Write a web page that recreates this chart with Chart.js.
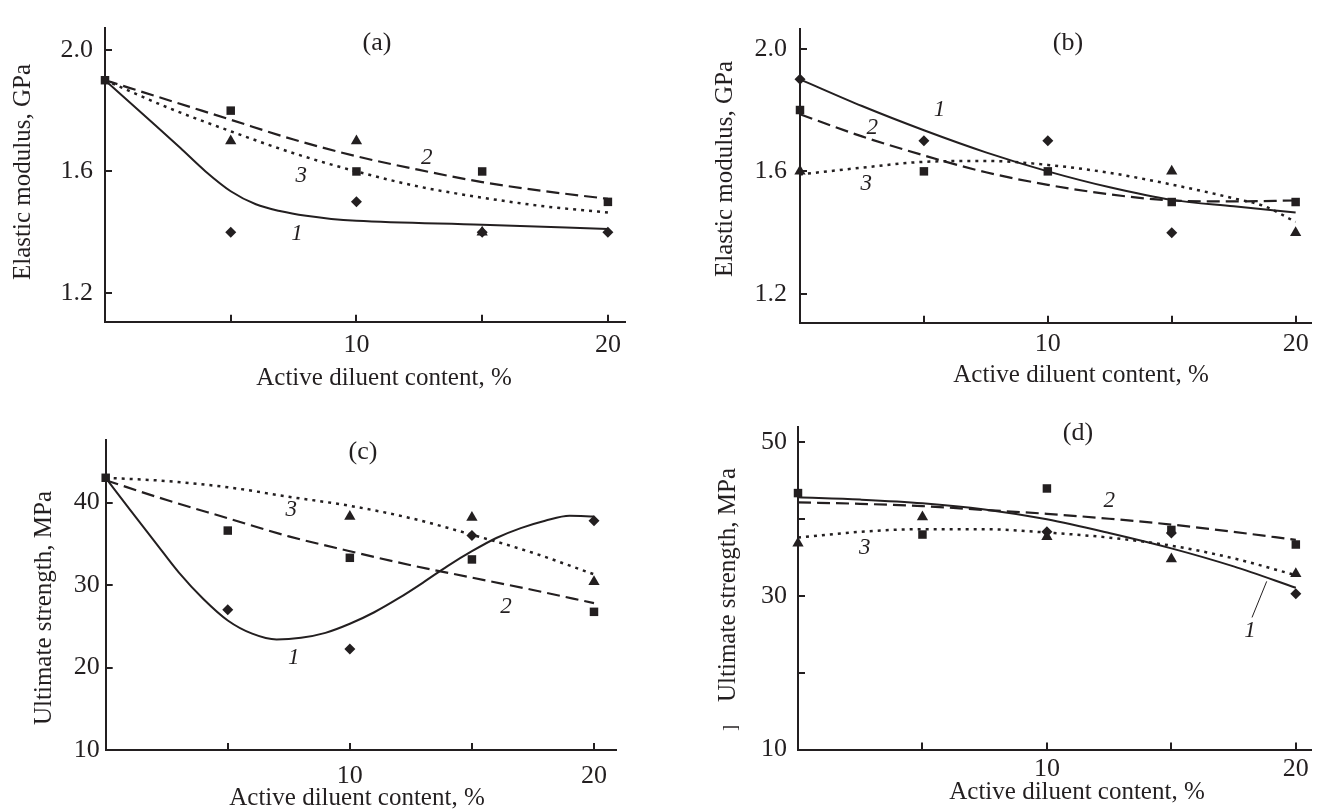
<!DOCTYPE html>
<html>
<head>
<meta charset="utf-8">
<script src="https://cdn.jsdelivr.net/npm/chart.js@4.4.1/dist/chart.umd.min.js"></script>
<style>
  html, body { margin: 0; padding: 0; background: #fff; }
  body { width: 1318px; height: 810px; position: relative; overflow: hidden; }
  canvas { position: absolute; }
</style>
</head>
<body>
<canvas id="panelA" width="660" height="400" style="left:0px;top:0px"></canvas>
<canvas id="panelB" width="658" height="400" style="left:660px;top:0px"></canvas>
<canvas id="panelC" width="660" height="410" style="left:0px;top:400px"></canvas>
<canvas id="panelD" width="658" height="410" style="left:660px;top:400px"></canvas>
<script>
// diluent content where samples were measured, %
const contentX = [0, 5, 10, 15, 20];
// abscissas of the fitted curves
const fitX = [0, 2.5, 5, 7.5, 10, 12.5, 15, 17.5, 20];

const xTickValues = [5, 10, 15, 20];
const xTickLabels = ['', '10', '', '20'];

// (a) elastic modulus, GPa
const aDiamond = [null, 1.4, 1.5, 1.4, 1.4];
const aSquare = [1.9, 1.8, 1.6, 1.6, 1.5];
const aTriangle = [null, 1.7, 1.7, 1.4, null];
const aFit1X = [0, 1, 2, 3, 4, 5, 6, 7, 8, 9, 10, 15, 20];
const aFit1 = [1.9, 1.826, 1.752, 1.677, 1.6, 1.535, 1.492, 1.469, 1.454, 1.444, 1.438, 1.425, 1.411];
const aFit2 = [1.9, 1.835, 1.77, 1.705, 1.65, 1.605, 1.565, 1.535, 1.51];
const aFit3 = [1.9, 1.81, 1.732, 1.66, 1.6, 1.55, 1.514, 1.485, 1.465];

// (b) elastic modulus, GPa
const bDiamond = [1.9, 1.7, 1.7, 1.4, null];
const bSquare = [1.8, 1.6, 1.6, 1.5, 1.5];
const bTriangle = [1.6, null, null, 1.6, 1.4];
const bFit1 = [1.9, 1.813, 1.734, 1.662, 1.6, 1.548, 1.507, 1.486, 1.466];
const bFit2 = [1.786, 1.714, 1.652, 1.597, 1.556, 1.525, 1.505, 1.502, 1.505];
const bFit3X = [0, 2.5, 5, 7.5, 10, 12.5, 15, 17.5, 18.75, 20];
const bFit3 = [1.59, 1.612, 1.631, 1.634, 1.621, 1.595, 1.557, 1.512, 1.486, 1.435];

// (c) ultimate strength, MPa
const cDiamond = [null, 27.0, 22.25, 36.0, 37.8];
const cSquare = [43.0, 36.6, 33.3, 33.1, 26.75];
const cTriangle = [null, null, 38.3, 38.2, 30.4];
const cFit1X = [0, 1, 2, 3, 4, 5, 6, 7, 8, 9, 10, 11, 12, 13, 14, 15, 16, 17, 18, 19, 20];
const cFit1 = [43.0, 39.1, 35.3, 31.5, 28.3, 25.7, 24.1, 23.4, 23.6, 24.2, 25.3, 26.7, 28.4, 30.3, 32.3, 34.1, 35.7, 36.9, 37.8, 38.4, 38.3];
const cFit2 = [42.7, 40.3, 38.1, 35.9, 34.1, 32.4, 30.9, 29.4, 27.8];
const cFit3 = [43.0, 42.6, 41.85, 40.7, 39.6, 38.1, 36.1, 33.9, 31.3];

// (d) ultimate strength, MPa
const dDiamond = [null, null, 38.35, 38.2, 30.3];
const dSquare = [43.4, 38.0, 44.0, 38.6, 36.7];
const dTriangle = [36.85, 40.3, 37.7, 34.8, 32.9];
const dFit1 = [42.85, 42.55, 42.08, 41.26, 39.98, 38.2, 36.2, 33.85, 31.07];
const dFit2 = [42.2, 42.0, 41.7, 41.2, 40.7, 40.06, 39.3, 38.35, 37.3];
const dFit3 = [37.6, 38.35, 38.7, 38.7, 38.26, 37.6, 36.55, 34.9, 32.7];
const dLeaderX = [18.24, 18.83];
const dLeader = [27.2, 31.9];

const modulusTicks = [1.2, 1.6, 2.0];
const modulusLabels = ['1.2', '1.6', '2.0'];
const strengthTicksC = [10, 20, 30, 40];
const strengthLabelsC = ['10', '20', '30', '40'];
const strengthTicksD = [10, 20, 30, 40, 50];
const strengthLabelsD = ['10', '', '30', '', '50'];

const INK = '#231f20';
const SERIF = "'Liberation Serif', 'Times New Roman', serif";

Chart.defaults.font.family = SERIF;
Chart.defaults.font.size = 26;
Chart.defaults.color = INK;

const pts = (xs, ys) => xs.map((x, i) => ({ x: x, y: ys[i] }));

function markers(ys, style, radius) {
  return {
    data: pts(contentX, ys),
    showLine: false,
    pointStyle: style,
    pointRadius: radius,
    pointHoverRadius: radius,
    pointBackgroundColor: INK,
    pointBorderColor: INK,
    pointBorderWidth: 0,
    clip: false
  };
}

function fit(xs, ys, dash, width) {
  return {
    data: pts(xs, ys),
    borderColor: INK,
    borderWidth: width,
    borderDash: dash,
    borderCapStyle: 'butt',
    pointRadius: 0,
    cubicInterpolationMode: 'monotone',
    fill: false,
    clip: false
  };
}

const SOLID = [];
const DASHED = [13, 6];
const DOTTED = [3, 5];

// inward tick marks plus the free text of each panel
const panelDecor = {
  id: 'panelDecor',
  afterDraw(chart, args, opts) {
    const { ctx, chartArea: a, scales: { x, y } } = chart;
    ctx.save();
    ctx.strokeStyle = INK;
    ctx.lineWidth = 2;
    ctx.beginPath();
    x.ticks.forEach(t => {
      const px = Math.round(x.getPixelForValue(t.value));
      ctx.moveTo(px, a.bottom);
      ctx.lineTo(px, a.bottom - 7);
    });
    y.ticks.forEach(t => {
      const py = Math.round(y.getPixelForValue(t.value));
      ctx.moveTo(a.left, py);
      ctx.lineTo(a.left + 7, py);
    });
    ctx.stroke();

    ctx.fillStyle = INK;
    ctx.textAlign = 'center';
    ctx.textBaseline = 'middle';
    ctx.font = `26px ${SERIF}`;
    ctx.fillText(opts.letter.text, opts.letter.x, opts.letter.y);

    ctx.font = `25px ${SERIF}`;
    ctx.fillText(opts.xTitle.text, opts.xTitle.x, opts.xTitle.y);
    ctx.save();
    ctx.translate(opts.yTitle.x, opts.yTitle.y);
    ctx.rotate(-Math.PI / 2);
    ctx.fillText(opts.yTitle.text, 0, 0);
    ctx.restore();

    if (opts.stray) {
      ctx.save();
      ctx.font = `18px ${SERIF}`;
      ctx.translate(opts.stray.x, opts.stray.y);
      ctx.rotate(-Math.PI / 2);
      ctx.fillText(opts.stray.text, 0, 0);
      ctx.restore();
    }

    // curve numbers sit in data space
    ctx.font = `italic 23px ${SERIF}`;
    opts.tags.forEach(t => {
      ctx.fillText(t.text, x.getPixelForValue(t.x), y.getPixelForValue(t.y));
    });
    ctx.restore();
  }
};

function makePanel(id, p) {
  const canvas = document.getElementById(id);
  const w = canvas.width, h = canvas.height;
  return new Chart(canvas, {
    type: 'line',
    data: { datasets: p.datasets },
    plugins: [panelDecor],
    options: {
      responsive: false,
      animation: false,
      events: [],
      layout: { padding: { left: 0, top: p.area.top, right: w - p.area.right, bottom: 0 } },
      plugins: {
        legend: { display: false },
        tooltip: { enabled: false },
        panelDecor: p.text
      },
      scales: {
        x: {
          type: 'linear',
          min: 0,
          max: p.xMax,
          afterBuildTicks: s => { s.ticks = xTickValues.map(v => ({ value: v })); },
          afterFit: s => { s.height = h - p.area.bottom; },
          grid: { display: false, drawTicks: false },
          border: { display: true, color: INK, width: 2 },
          ticks: {
            autoSkip: false,
            maxRotation: 0,
            padding: p.xPad,
            callback: (v, i) => xTickLabels[i]
          }
        },
        y: {
          type: 'linear',
          min: p.yMin,
          max: p.yMax,
          afterBuildTicks: s => { s.ticks = p.yTicks.map(v => ({ value: v })); },
          afterFit: s => { s.width = p.area.left; },
          grid: { display: false, drawTicks: false },
          border: { display: true, color: INK, width: 2 },
          ticks: {
            autoSkip: false,
            padding: p.yPad,
            callback: (v, i) => p.yLabels[i]
          }
        }
      }
    }
  });
}

const xTitle = 'Active diluent content, %';

makePanel('panelA', {
  area: { left: 105, top: 12.7, right: 625, bottom: 321.7 },
  xMax: 20.68, yMin: 1.106, yMax: 2.073,
  yTicks: modulusTicks, yLabels: modulusLabels,
  xPad: 8, yPad: 12,
  datasets: [
    markers(aSquare, 'rect', 6),
    markers(aTriangle, 'triangle', 6.5),
    markers(aDiamond, 'rectRot', 5.5),
    fit(aFit1X, aFit1, SOLID, 2),
    fit(fitX, aFit2, DASHED, 2.2),
    fit(fitX, aFit3, DOTTED, 2.5)
  ],
  text: {
    letter: { text: '(a)', x: 377, y: 43 },
    xTitle: { text: xTitle, x: 384, y: 378 },
    yTitle: { text: 'Elastic modulus, GPa', x: 23, y: 172 },
    tags: [
      { text: '1', x: 7.64, y: 1.394 },
      { text: '2', x: 12.8, y: 1.644 },
      { text: '3', x: 7.8, y: 1.586 }
    ]
  }
});

makePanel('panelB', {
  area: { left: 140, top: 15, right: 658, bottom: 322.7 },
  xMax: 20.64, yMin: 1.1065, yMax: 2.0655,
  yTicks: modulusTicks, yLabels: modulusLabels,
  xPad: 6, yPad: 13,
  datasets: [
    markers(bSquare, 'rect', 6),
    markers(bTriangle, 'triangle', 6.5),
    markers(bDiamond, 'rectRot', 5.5),
    fit(fitX, bFit1, SOLID, 2),
    fit(fitX, bFit2, DASHED, 2.2),
    fit(bFit3X, bFit3, DOTTED, 2.5)
  ],
  text: {
    letter: { text: '(b)', x: 408, y: 43 },
    xTitle: { text: xTitle, x: 421, y: 375 },
    yTitle: { text: 'Elastic modulus, GPa', x: 65, y: 169 },
    tags: [
      { text: '1', x: 5.63, y: 1.80 },
      { text: '2', x: 2.92, y: 1.74 },
      { text: '3', x: 2.67, y: 1.559 }
    ]
  }
});

makePanel('panelC', {
  area: { left: 105.7, top: 40, right: 616.7, bottom: 350 },
  xMax: 20.93, yMin: 10, yMax: 47.58,
  yTicks: strengthTicksC, yLabels: strengthLabelsC,
  xPad: 11, yPad: 6,
  datasets: [
    markers(cSquare, 'rect', 6),
    markers(cTriangle, 'triangle', 6.5),
    markers(cDiamond, 'rectRot', 5.5),
    fit(cFit1X, cFit1, SOLID, 2),
    fit(fitX, cFit2, DASHED, 2.2),
    fit(fitX, cFit3, DOTTED, 2.5)
  ],
  text: {
    letter: { text: '(c)', x: 363, y: 52 },
    xTitle: { text: xTitle, x: 357, y: 398 },
    yTitle: { text: 'Ultimate strength, MPa', x: 44, y: 208 },
    tags: [
      { text: '1', x: 7.7, y: 21.2 },
      { text: '2', x: 16.4, y: 27.3 },
      { text: '3', x: 7.6, y: 39.1 }
    ]
  }
});

makePanel('panelD', {
  area: { left: 138, top: 22.7, right: 658, bottom: 349.5 },
  xMax: 20.63, yMin: 10, yMax: 52.06,
  yTicks: strengthTicksD, yLabels: strengthLabelsD,
  xPad: 4, yPad: 11,
  datasets: [
    markers(dSquare, 'rect', 6),
    markers(dTriangle, 'triangle', 6.5),
    markers(dDiamond, 'rectRot', 5.5),
    fit(fitX, dFit1, SOLID, 2),
    fit(fitX, dFit2, DASHED, 2.2),
    fit(fitX, dFit3, DOTTED, 2.5),
    fit(dLeaderX, dLeader, SOLID, 1)
  ],
  text: {
    letter: { text: '(d)', x: 418, y: 33 },
    xTitle: { text: xTitle, x: 417, y: 392 },
    yTitle: { text: 'Ultimate strength, MPa', x: 68, y: 185 },
    stray: { text: ']', x: 71, y: 328 },
    tags: [
      { text: '1', x: 18.16, y: 25.5 },
      { text: '2', x: 12.5, y: 42.4 },
      { text: '3', x: 2.68, y: 36.2 }
    ]
  }
});
</script>
</body>
</html>
